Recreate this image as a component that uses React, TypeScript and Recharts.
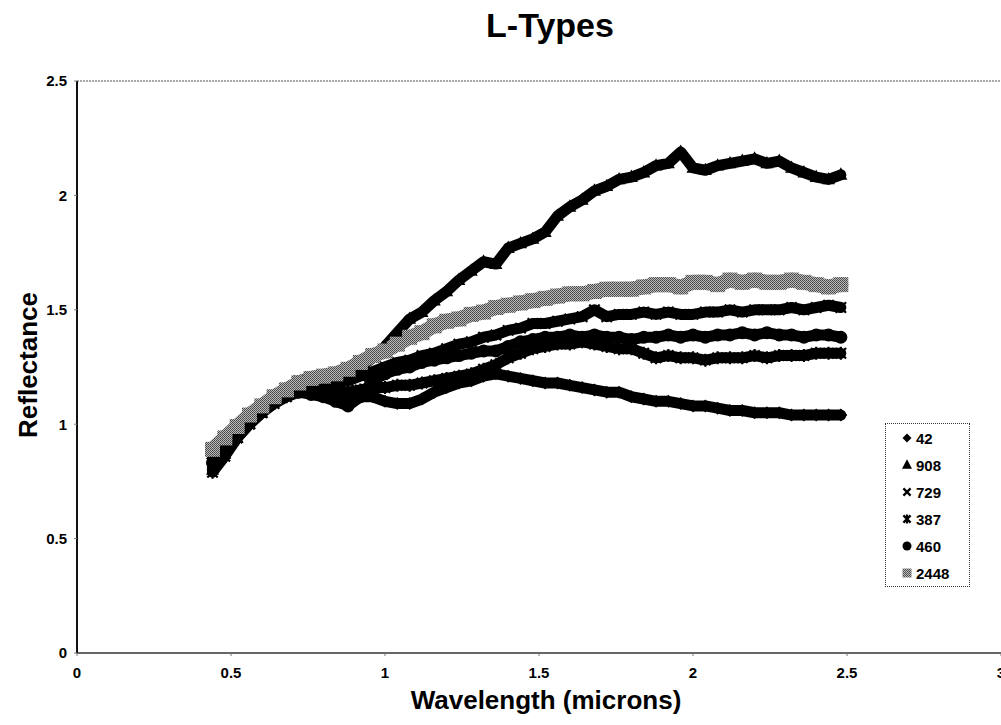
import React from 'react';
import { LineChart, Line, XAxis, YAxis, ReferenceLine } from 'recharts';

const FONT = '"Liberation Sans", Arial, Helvetica, sans-serif';

const TITLE = 'L-Types';
const X_LABEL = 'Wavelength (microns)';
const Y_LABEL = 'Reflectance';

const X_TICKS = [0, 0.5, 1, 1.5, 2, 2.5, 3];
const Y_TICKS = [0, 0.5, 1, 1.5, 2, 2.5];

const WAVELENGTH = [
  0.44, 0.48, 0.52, 0.56, 0.60, 0.64, 0.68, 0.72, 0.76, 0.80,
  0.84, 0.88, 0.92, 0.96, 1.00, 1.04, 1.08, 1.12, 1.16, 1.20,
  1.24, 1.28, 1.32, 1.36, 1.40, 1.44, 1.48, 1.52, 1.56, 1.60,
  1.64, 1.68, 1.72, 1.76, 1.80, 1.84, 1.88, 1.92, 1.96, 2.00,
  2.04, 2.08, 2.12, 2.16, 2.20, 2.24, 2.28, 2.32, 2.36, 2.40,
  2.44, 2.48,
];

const R42 = [
  0.85, 0.91, 0.97, 1.02, 1.07, 1.10, 1.12, 1.14, 1.14, 1.13,
  1.12, 1.13, 1.12, 1.12, 1.10, 1.09, 1.09, 1.11, 1.14, 1.16,
  1.18, 1.19, 1.21, 1.22, 1.21, 1.20, 1.19, 1.18, 1.18, 1.17,
  1.16, 1.15, 1.14, 1.14, 1.12, 1.11, 1.10, 1.10, 1.09, 1.08,
  1.08, 1.07, 1.06, 1.06, 1.05, 1.05, 1.05, 1.04, 1.04, 1.04,
  1.04, 1.04,
];

const R908 = [
  0.80, 0.87, 0.94, 1.00, 1.05, 1.10, 1.14, 1.17, 1.18, 1.17,
  1.19, 1.22, 1.25, 1.29, 1.34, 1.40, 1.46, 1.49, 1.54, 1.58,
  1.63, 1.67, 1.71, 1.70, 1.77, 1.79, 1.81, 1.84, 1.91, 1.95,
  1.98, 2.02, 2.04, 2.07, 2.08, 2.10, 2.13, 2.14, 2.19, 2.12,
  2.11, 2.13, 2.14, 2.15, 2.16, 2.14, 2.15, 2.12, 2.10, 2.08,
  2.07, 2.09,
];

const R729 = [
  0.82, 0.89, 0.96, 1.02, 1.07, 1.11, 1.15, 1.19, 1.20, 1.18,
  1.18, 1.19, 1.21, 1.23, 1.25, 1.27, 1.28, 1.30, 1.31, 1.33,
  1.35, 1.36, 1.38, 1.39, 1.41, 1.42, 1.44, 1.44, 1.45, 1.46,
  1.47, 1.50, 1.47, 1.48, 1.48, 1.49, 1.48, 1.49, 1.48, 1.48,
  1.49, 1.49, 1.50, 1.49, 1.50, 1.50, 1.50, 1.51, 1.50, 1.51,
  1.52, 1.51,
];

const R387 = [
  0.79, 0.86, 0.94, 1.00, 1.05, 1.09, 1.12, 1.15, 1.16, 1.15,
  1.14, 1.14, 1.15, 1.16, 1.16, 1.17, 1.17, 1.18, 1.19, 1.20,
  1.21, 1.22, 1.24, 1.26, 1.29, 1.31, 1.33, 1.34, 1.35, 1.35,
  1.36, 1.35, 1.34, 1.33, 1.33, 1.31, 1.29, 1.30, 1.29, 1.29,
  1.28, 1.29, 1.29, 1.29, 1.30, 1.29, 1.30, 1.30, 1.30, 1.31,
  1.31, 1.31,
];

const R460 = [
  0.83, 0.90, 0.97, 1.02, 1.06, 1.10, 1.13, 1.14, 1.13, 1.12,
  1.10, 1.08, 1.12, 1.19, 1.22, 1.24, 1.25, 1.27, 1.28, 1.29,
  1.30, 1.31, 1.32, 1.32, 1.34, 1.36, 1.37, 1.38, 1.38, 1.39,
  1.38, 1.39, 1.38, 1.38, 1.37, 1.38, 1.38, 1.39, 1.38, 1.39,
  1.38, 1.39, 1.39, 1.40, 1.39, 1.40, 1.39, 1.39, 1.38, 1.39,
  1.39, 1.38,
];

const R2448 = [
  0.89, 0.94, 0.99, 1.04, 1.08, 1.12, 1.15, 1.18, 1.20, 1.21,
  1.22, 1.24, 1.27, 1.30, 1.32, 1.35, 1.38, 1.40, 1.43, 1.45,
  1.46, 1.48, 1.49, 1.51, 1.52, 1.53, 1.54, 1.55, 1.56, 1.57,
  1.57, 1.58, 1.59, 1.59, 1.59, 1.60, 1.61, 1.61, 1.60, 1.62,
  1.62, 1.61, 1.63, 1.62, 1.63, 1.62, 1.62, 1.63, 1.62, 1.61,
  1.60, 1.61,
];

type Shape = 'diamond' | 'triangle' | 'cross' | 'asterisk' | 'circle' | 'square';

const SERIES: { key: string; name: string; values: number[]; shape: Shape; color: string }[] = [
  { key: 's42', name: '42', values: R42, shape: 'diamond', color: '#000' },
  { key: 's908', name: '908', values: R908, shape: 'triangle', color: '#000' },
  { key: 's729', name: '729', values: R729, shape: 'cross', color: '#000' },
  { key: 's387', name: '387', values: R387, shape: 'asterisk', color: '#000' },
  { key: 's460', name: '460', values: R460, shape: 'circle', color: '#000' },
  { key: 's2448', name: '2448', values: R2448, shape: 'square', color: 'url(#halftone)' },
];

const DATA = WAVELENGTH.map((x, i) => {
  const row: Record<string, number> = { x };
  SERIES.forEach((s) => {
    row[s.key] = s.values[i];
  });
  return row;
});

function Marker({ cx, cy, shape, size, fill }: { cx: number; cy: number; shape: Shape; size: number; fill: string }) {
  const s = size / 2;
  switch (shape) {
    case 'diamond':
      return <polygon points={`${cx},${cy - s} ${cx + s},${cy} ${cx},${cy + s} ${cx - s},${cy}`} fill={fill} />;
    case 'triangle':
      return <polygon points={`${cx},${cy - s * 1.15} ${cx + s},${cy + s * 0.75} ${cx - s},${cy + s * 0.75}`} fill={fill} />;
    case 'cross':
      return (
        <path
          d={`M${cx - s * 0.8},${cy - s * 0.8}L${cx + s * 0.8},${cy + s * 0.8}M${cx - s * 0.8},${cy + s * 0.8}L${cx + s * 0.8},${cy - s * 0.8}`}
          stroke={fill}
          strokeWidth={2.2}
        />
      );
    case 'asterisk':
      return (
        <path
          d={`M${cx - s * 0.8},${cy - s * 0.8}L${cx + s * 0.8},${cy + s * 0.8}M${cx - s * 0.8},${cy + s * 0.8}L${cx + s * 0.8},${cy - s * 0.8}M${cx},${cy - s}L${cx},${cy + s}`}
          stroke={fill}
          strokeWidth={2.2}
        />
      );
    case 'circle':
      return <circle cx={cx} cy={cy} r={s} fill={fill} />;
    case 'square':
    default:
      return <rect x={cx - s} y={cy - s} width={size} height={size} fill={fill} />;
  }
}

function makeDot(shape: Shape, color: string, key: string, size: number) {
  return (props: any) => {
    const { cx, cy, index } = props;
    if (cx == null || cy == null) return <g key={`${key}-${index}`} />;
    return (
      <g key={`${key}-${index}`}>
        <Marker cx={cx} cy={cy} shape={shape} size={size} fill={color} />
      </g>
    );
  };
}

function LegendBox() {
  return (
    <div
      style={{
        position: 'absolute',
        left: 885,
        top: 423,
        width: 85,
        height: 164,
        border: '1px dotted #333',
        boxSizing: 'border-box',
        background: '#fff',
        fontFamily: FONT,
        fontWeight: 'bold',
        fontSize: 15,
        color: '#000',
      }}
    >
      {SERIES.map((s, i) => (
        <div
          key={s.key}
          style={{
            position: 'absolute',
            left: 15,
            top: 5 + i * 27,
            height: 18,
            display: 'flex',
            alignItems: 'center',
            whiteSpace: 'nowrap',
          }}
        >
          <svg width={12} height={12} style={{ marginRight: 3 }}>
            <defs>
              <pattern id={`lg-ht-${i}`} width="2" height="2" patternUnits="userSpaceOnUse">
                <rect width="2" height="2" fill="#bbb" />
                <rect width="1" height="1" fill="#444" />
                <rect x="1" y="1" width="1" height="1" fill="#555" />
              </pattern>
            </defs>
            <Marker
              cx={6}
              cy={6}
              shape={s.shape}
              size={s.shape === 'triangle' ? 10 : 9}
              fill={s.shape === 'square' ? `url(#lg-ht-${i})` : '#000'}
            />
          </svg>
          <span>{s.name}</span>
        </div>
      ))}
    </div>
  );
}

export default function App() {
  return (
    <div
      style={{
        position: 'absolute',
        left: 0,
        top: 0,
        width: 1001,
        height: 725,
        overflow: 'hidden',
        background: '#fff',
      }}
    >
      <LineChart
        width={1030}
        height={725}
        data={DATA}
        margin={{ top: 81, right: 29, left: 0, bottom: 0 }}
      >
        <defs>
          <pattern id="halftone" width="2" height="2" patternUnits="userSpaceOnUse">
            <rect width="2" height="2" fill="#bbb" />
            <rect width="1" height="1" fill="#444" />
            <rect x="1" y="1" width="1" height="1" fill="#555" />
          </pattern>
        </defs>
        <XAxis
          type="number"
          dataKey="x"
          domain={[0, 3]}
          ticks={X_TICKS}
          height={72}
          axisLine={{ stroke: '#333', strokeWidth: 1.5 }}
          tickLine={{ stroke: '#777' }}
          tickSize={3}
          tickMargin={11}
          tick={{ fill: '#000', fontFamily: FONT, fontWeight: 'bold', fontSize: 15 }}
        />
        <YAxis
          type="number"
          domain={[0, 2.5]}
          ticks={Y_TICKS}
          width={77}
          axisLine={{ stroke: '#111', strokeWidth: 2 }}
          tickLine={{ stroke: '#777' }}
          tickSize={3}
          tickMargin={7}
          tick={{ fill: '#000', fontFamily: FONT, fontWeight: 'bold', fontSize: 15 }}
        />
        <ReferenceLine y={2.5} stroke="#555" strokeDasharray="2 1" />
        {SERIES.map((s) => {
          const grey = s.shape === 'square';
          return (
            <Line
              key={s.key}
              type="linear"
              dataKey={s.key}
              name={s.name}
              stroke={s.color}
              strokeWidth={grey ? 15 : 11}
              strokeLinejoin="round"
              strokeLinecap="round"
              dot={makeDot(s.shape, s.color, s.key, grey ? 15 : 13)}
              activeDot={false}
              isAnimationActive={false}
            />
          );
        })}
        <text x={550} y={37} textAnchor="middle" fontFamily={FONT} fontWeight="bold" fontSize={34} fill="#000">
          {TITLE}
        </text>
        <text x={546} y={709} textAnchor="middle" fontFamily={FONT} fontWeight="bold" fontSize={26} fill="#000">
          {X_LABEL}
        </text>
        <text
          x={0}
          y={0}
          transform="translate(37,365) rotate(-90)"
          textAnchor="middle"
          fontFamily={FONT}
          fontWeight="bold"
          fontSize={26}
          fill="#000"
        >
          {Y_LABEL}
        </text>
      </LineChart>
      <LegendBox />
    </div>
  );
}
